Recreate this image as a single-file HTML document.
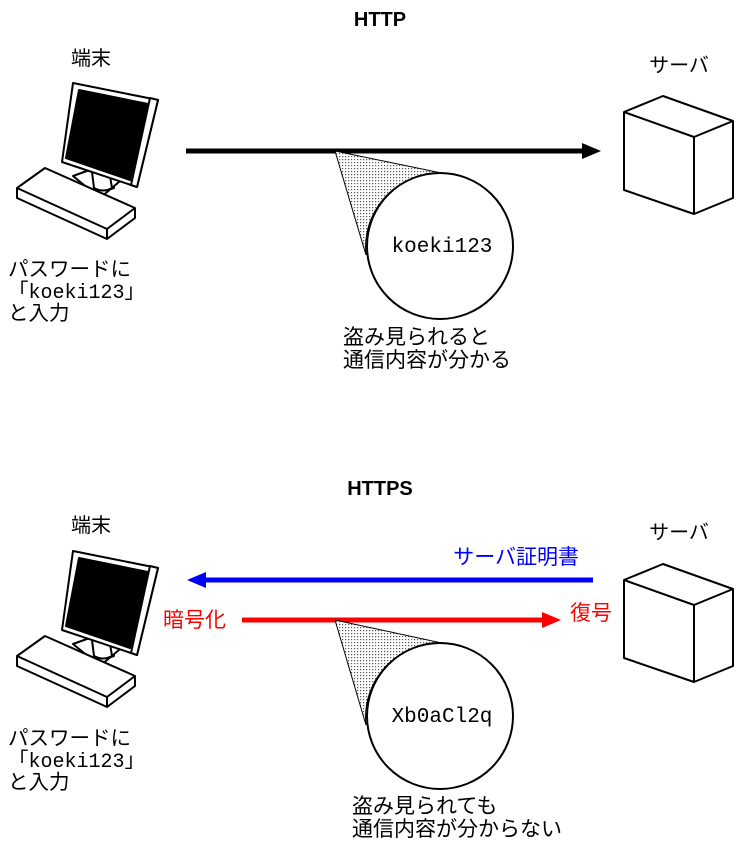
<!DOCTYPE html>
<html><head><meta charset="utf-8"><style>
html,body{margin:0;padding:0;background:#fff;}
svg{display:block;}
text{font-family:"Liberation Sans","Noto Sans CJK JP",sans-serif;}
.m{font-family:"Liberation Mono","Noto Sans CJK JP",monospace;}
</style></head><body>
<svg width="736" height="847" viewBox="0 0 736 847" xmlns="http://www.w3.org/2000/svg">
<defs>
<pattern id="dots" width="3" height="3" patternUnits="userSpaceOnUse">
<rect width="3" height="3" fill="#fff"/><rect width="1.2" height="1.2" fill="#555"/>
</pattern>
<g id="pc" stroke="#000" stroke-width="2" stroke-linejoin="round" fill="#fff">
<path d="M84 172 L82 186 Q100 194 114 188 L112 176 Z"/>
<path d="M73 176 L98 167 L126 176 L100 198 Z"/>
<path d="M92 172 L94 188 Q103 193 112 188 L110 176"/>
<path d="M73 83 L158 100 L137 187 L62 162 Z"/>
<path d="M150 98 L158 100 L137 187 L131 185 Z" fill="#fff"/>
<path d="M79 90 L148 104 L130 180 L66 158 Z" fill="#000"/>
<path d="M17 188 L45 168 L135 208 L135 218 L107 239 L17 198 Z"/>
<path d="M17 188 L107 229 L135 208 M107 229 L107 239" fill="none"/>
</g>
<g id="srv" stroke="#000" stroke-width="2" stroke-linejoin="round" fill="#fff">
<path d="M624 112 L663 96 L733 121 L733 198 L694 214 L624 190 Z"/>
<path d="M624 112 L694 137 L733 121 M694 137 L694 214" fill="none"/>
</g>
</defs>

<!-- HTTP -->
<text x="380" y="26" font-size="20" font-weight="bold" text-anchor="middle">HTTP</text>
<text x="91" y="65" font-size="20" text-anchor="middle">端末</text>
<text x="679" y="72" font-size="20" text-anchor="middle">サーバ</text>
<use href="#pc"/>
<use href="#srv"/>
<line x1="186" y1="151" x2="585" y2="151" stroke="#000" stroke-width="5"/>
<polygon points="601,151 582,143 582,159" fill="#000"/>
<path d="M335 151 L451 175 A73 73 0 0 0 366 255 Z" fill="url(#dots)" stroke="#000" stroke-width="1"/>
<circle cx="440" cy="246" r="73" fill="#fff" stroke="#000" stroke-width="2"/>
<text class="m" x="442" y="252" font-size="21" text-anchor="middle">koeki123</text>
<text x="8" y="276" font-size="20.5">パスワードに</text>
<text x="8" y="298" font-size="20.5"><tspan>「</tspan><tspan class="m" font-size="20">koeki123</tspan><tspan>」</tspan></text>
<text x="8" y="320" font-size="20.5">と入力</text>
<text x="343" y="344" font-size="21">盗み見られると</text>
<text x="343" y="367" font-size="21">通信内容が分かる</text>

<!-- HTTPS -->
<text x="380" y="495" font-size="20" font-weight="bold" text-anchor="middle">HTTPS</text>
<text x="91" y="532" font-size="20" text-anchor="middle">端末</text>
<text x="679" y="539" font-size="20" text-anchor="middle">サーバ</text>
<use href="#pc" transform="translate(0,468)"/>
<use href="#srv" transform="translate(0,468)"/>
<text x="579" y="564" font-size="21" fill="#0000ff" text-anchor="end">サーバ証明書</text>
<line x1="203" y1="580" x2="593" y2="580" stroke="#0000ff" stroke-width="5"/>
<polygon points="187,580 206,572 206,588" fill="#0000ff"/>
<text x="163" y="627" font-size="21" fill="#ff0000">暗号化</text>
<line x1="242" y1="620" x2="545" y2="620" stroke="#ff0000" stroke-width="5"/>
<polygon points="561,620 542,612 542,628" fill="#ff0000"/>
<text x="570" y="620" font-size="21" fill="#ff0000">復号</text>
<path d="M335 620 L451 645 A73 73 0 0 0 366 725 Z" fill="url(#dots)" stroke="#000" stroke-width="1"/>
<circle cx="440" cy="716" r="73" fill="#fff" stroke="#000" stroke-width="2"/>
<text class="m" x="442" y="722" font-size="21" text-anchor="middle">Xb0aCl2q</text>
<text x="8" y="745" font-size="20.5">パスワードに</text>
<text x="8" y="767" font-size="20.5"><tspan>「</tspan><tspan class="m" font-size="20">koeki123</tspan><tspan>」</tspan></text>
<text x="8" y="789" font-size="20.5">と入力</text>
<text x="352" y="813" font-size="21">盗み見られても</text>
<text x="352" y="836" font-size="21">通信内容が分からない</text>
</svg>
</body></html>
